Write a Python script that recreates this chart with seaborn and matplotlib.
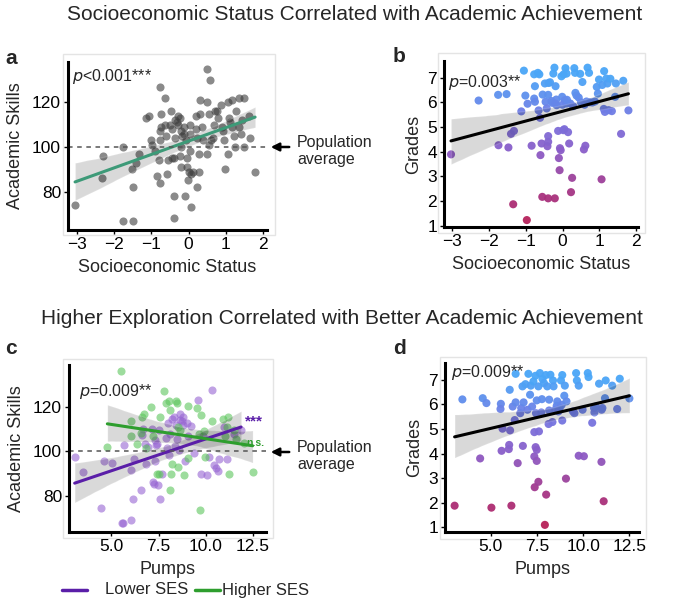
import numpy as np
import pandas as pd
import seaborn as sns
import matplotlib.pyplot as plt
from matplotlib.colors import LinearSegmentedColormap
from matplotlib.lines import Line2D
from matplotlib.patches import Rectangle

# panel a: SES vs academic skills
ses_a = [-3.05, -2.30, -2.33, -1.75, -1.77, -1.48, -1.52, -1.48, -1.42, -1.34,
         -1.14, -1.05, -1.02, -0.98, -0.90, -0.84, -0.77, -0.80, -0.78, -0.74,
         -0.76, -0.74, -0.78, -0.62, -0.62, -0.60, -0.57, -0.56, -0.51, -0.48,
         -0.45, -0.44, -0.40, -0.39, -0.37, -0.39, -0.36, -0.31, -0.29, -0.28,
         -0.24, -0.21, -0.18, -0.20, -0.22, -0.21, -0.13, -0.11, -0.09, -0.07,
         -0.04, -0.04, -0.02, 0.00, 0.03, 0.04, 0.04, 0.07, 0.08, 0.11,
         0.19, 0.22, 0.22, 0.21, 0.27, 0.29, 0.32, 0.32, 0.36, 0.39,
         0.49, 0.50, 0.51, 0.58, 0.54, 0.55, 0.61, 0.65, 0.69, 0.72,
         0.77, 0.80, 0.86, 0.90, 0.93, 0.95, 0.99, 1.05, 1.05, 1.10,
         1.12, 1.17, 1.18, 1.21, 1.25, 1.27, 1.35, 1.35, 1.40, 1.49,
         1.49, 1.43, 1.62, 1.64, 1.79]
skills_a = [74, 96, 86, 100, 67, 67, 90, 82, 93, 97,
            113, 114, 103, 101, 98, 87, 84, 94, 127, 115,
            107, 109, 103, 122, 110, 105, 88, 94, 110, 116,
            108, 95, 68, 78, 104, 95, 112, 111, 110, 114,
            113, 107, 105, 100, 96, 91, 109, 106, 78, 103,
            95, 91, 85, 89, 106, 110, 98, 88, 73, 89,
            108, 104, 82, 114, 89, 97, 121, 115, 109, 103,
            97, 120, 135, 130, 115, 101, 103, 104, 110, 116,
            116, 113, 119, 109, 107, 103, 90, 97, 120, 113,
            111, 121, 109, 105, 100, 116, 122, 109, 106, 100,
            122, 112, 114, 104, 89]

# panel b: SES vs grades
ses_b = [-3.03, -2.28, -1.75, -1.52, -1.74, -1.47, -1.40, -1.32, -1.34, -1.05,
         -1.01, -0.95, -1.12, -0.97, -0.84, -0.77, -0.75, -0.77, -0.75, -0.65,
         -0.61, -0.60, -0.57, -0.55, -0.67, -0.63, -0.54, -0.48, -0.46, -0.43,
         -0.41, -0.39, -0.39, -0.39, -0.38, -0.34, -0.39, -0.29, -0.25, -0.22,
         -0.21, -0.19, -0.17, -0.16, -0.12, -0.10, -0.08, -0.07, -0.05, -0.03,
         -0.01, 0.03, 0.02, 0.05, 0.08, 0.11, 0.06, 0.11, 0.15, 0.18,
         0.23, 0.26, 0.21, 0.29, 0.32, 0.34, 0.35, 0.38, 0.44, 0.48,
         0.54, 0.58, 0.62, 0.65, 0.68, 0.72, 0.74, 0.81, 0.88, 0.93,
         0.96, 0.99, 1.06, 1.08, 1.12, 1.13, 1.15, 1.19, 1.22, 1.25,
         1.30, 1.34, 1.43, 1.45, 1.59, 1.65, 1.79, -0.30, 0.00, 0.12,
         -0.20, 0.50, 0.60]
grades_b = [3.89, 6.07, 6.30, 6.33, 4.26, 4.17, 4.72, 4.84, 1.87, 7.28,
            6.27, 5.94, 5.63, 1.23, 4.24, 7.13, 6.65, 6.15, 6.02, 5.67,
            5.37, 3.86, 4.33, 2.17, 7.19, 7.13, 6.31, 6.76, 6.02, 5.75,
            4.22, 4.40, 4.63, 2.11, 6.78, 6.81, 6.30, 5.98, 7.16, 7.40,
            2.11, 6.65, 6.11, 5.88, 4.84, 3.74, 3.25, 4.14, 4.06, 7.05,
            6.22, 7.13, 4.87, 4.91, 7.38, 7.16, 6.08, 5.95, 4.79, 4.33,
            2.36, 2.94, 5.95, 5.84, 7.38, 7.19, 6.38, 6.27, 6.19, 7.15,
            6.82, 4.09, 4.24, 6.03, 7.40, 7.19, 6.00, 5.99, 6.03, 6.62,
            6.35, 6.92, 2.88, 6.70, 5.73, 7.26, 5.61, 6.96, 6.76, 5.68,
            6.95, 5.64, 6.22, 6.76, 4.72, 6.87, 5.67, 6.05, 5.90, 6.10,
            5.95, 6.00, 5.90]

# panel c: pumps vs academic skills, split by SES
pumps_low = [3.06, 3.50, 4.44, 4.61, 5.05, 5.56, 5.62, 5.67, 6.02, 6.06,
             6.16, 6.20, 6.55, 6.64, 6.69, 6.76, 6.86, 6.93, 7.15, 7.22,
             7.27, 7.31, 7.32, 7.38, 7.43, 7.46, 7.50, 7.58, 7.67, 7.87,
             7.96, 8.00, 8.03, 8.13, 8.22, 8.31, 8.35, 8.42, 8.49, 8.56,
             8.63, 8.66, 8.73, 8.77, 8.80, 8.91, 9.01, 9.08, 9.22, 9.40,
             9.57, 9.77, 9.84, 10.07, 10.19, 10.32, 10.46, 10.55, 10.63, 10.72,
             10.99, 11.11, 11.51, 11.87]
skills_low = [97.6, 90.6, 74.6, 95.5, 94.6, 67.8, 67.8, 102.7, 69.0, 91.6,
              78.7, 96.6, 82.7, 107.3, 110.0, 103.3, 94.3, 101.8, 110.0, 86.1,
              85.4, 95.5, 105.1, 102.8, 103.3, 84.6, 109.6, 78.7, 89.9, 106.0,
              101.3, 112.5, 98.1, 107.8, 114.5, 115.2, 102.5, 111.9, 105.5, 100.6,
              114.0, 116.7, 113.4, 115.5, 111.8, 95.5, 112.5, 106.6, 111.3, 99.1,
              123.0, 89.9, 106.6, 89.1, 97.6, 127.6, 94.0, 92.5, 91.3, 96.6,
              110.7, 96.6, 107.5, 109.6]
pumps_high = [5.53, 4.79, 6.06, 6.02, 6.37, 6.55, 6.62, 6.73, 6.83, 7.08,
              7.20, 7.40, 7.50, 7.60, 7.78, 7.92, 8.03, 8.10, 8.13, 8.17,
              8.20, 8.45, 8.50, 8.52, 8.52, 8.66, 8.84, 9.05, 9.08, 9.54,
              9.63, 9.68, 9.75, 9.89, 9.98, 10.32, 10.90, 11.02, 11.13, 11.16,
              11.25, 11.51, 11.60, 12.01, 12.48]
skills_high = [135.8, 101.8, 113.7, 106.6, 103.3, 108.1, 115.5, 116.7, 101.5, 119.7,
               106.9, 89.9, 89.9, 115.5, 126.9, 121.5, 122.7, 118.5, 82.4, 89.9,
               94.3, 122.7, 121.5, 92.8, 111.0, 109.3, 89.1, 97.0, 120.4, 119.4,
               107.8, 73.7, 116.4, 109.0, 97.6, 113.7, 114.5, 107.0, 110.7, 115.5,
               89.9, 109.3, 105.5, 103.6, 90.6]

# panel d: pumps vs grades
pumps_d = [3.05, 5.04, 6.12, 7.93, 8.00, 7.38, 7.58, 9.07, 11.11, 4.43,
           5.59, 5.98, 6.00, 6.46, 6.74, 7.36, 7.43, 7.49, 7.49, 9.76,
           10.04, 10.99, 5.64, 6.05, 7.36, 7.61, 8.13, 8.34, 8.87, 10.49,
           6.30, 3.47, 4.57, 4.77, 5.55, 5.53, 6.03, 6.19, 6.35, 6.35,
           6.60, 6.65, 6.72, 6.78, 6.88, 6.99, 7.04, 7.13, 7.17, 7.24,
           7.31, 7.42, 7.45, 7.49, 7.58, 7.66, 7.74, 7.77, 7.80, 7.88,
           7.98, 8.06, 8.16, 8.16, 8.23, 8.37, 8.40, 8.50, 8.57, 8.60,
           8.66, 8.73, 8.80, 8.87, 8.84, 9.01, 8.98, 9.10, 9.45, 9.53,
           9.62, 9.66, 9.76, 9.97, 10.25, 10.29, 10.59, 10.61, 10.68, 10.86,
           11.00, 11.04, 11.18, 11.22, 11.57, 11.84, 11.98, 12.50]
grades_d = [1.88, 1.80, 1.88, 1.10, 2.33, 2.63, 2.85, 2.98, 2.06, 3.80,
            4.11, 4.18, 4.35, 3.61, 4.31, 3.88, 4.26, 4.15, 3.70, 3.91,
            3.89, 3.66, 5.01, 4.94, 4.87, 4.90, 5.20, 5.28, 5.34, 5.25,
            5.36, 6.20, 6.25, 6.05, 6.02, 5.81, 6.59, 5.91, 6.08, 7.24,
            5.64, 5.85, 6.73, 6.08, 6.82, 5.78, 7.24, 6.39, 6.76, 5.91,
            6.93, 7.16, 5.64, 6.16, 6.73, 7.27, 5.67, 6.21, 7.03, 6.86,
            7.19, 6.73, 5.75, 6.19, 7.20, 6.97, 6.73, 5.78, 5.94, 6.12,
            5.71, 5.85, 6.97, 7.19, 5.98, 6.76, 6.35, 6.12, 5.71, 5.64,
            7.27, 6.97, 6.76, 5.78, 7.27, 7.11, 5.85, 5.67, 5.91, 6.84,
            5.78, 5.85, 6.25, 6.97, 6.76, 5.81, 7.04, 6.24]

legend_labels = ['Lower SES', 'Higher SES']

sns.set_style('white')
plt.rcParams['font.family'] = ['Liberation Sans', 'DejaVu Sans']

W, H = 685, 602
fig = plt.figure(figsize=(W / 100, H / 100), dpi=100)

grade_cmap = LinearSegmentedColormap.from_list(
    'grades', ['#b81f55', '#a3378a', '#8b5cc7', '#7378e3', '#4aa6f7'])
PURPLE_PT, PURPLE_LN = '#9664d2', '#5a1ea8'
GREEN_PT, GREEN_LN = '#5cc65c', '#2e9e2e'


def make_axes(spine_box, frame_box):
    l, t, r, b = spine_box
    ax = fig.add_axes([l / W, 1 - b / H, (r - l) / W, (b - t) / H])
    fl, ft, fr, fb = frame_box
    fig.add_artist(Rectangle((fl / W, 1 - fb / H), (fr - fl) / W, (fb - ft) / H,
                             transform=fig.transFigure, fill=False,
                             edgecolor='#e4e4e4', lw=1, zorder=0))
    for s in ['top', 'right']:
        ax.spines[s].set_visible(False)
    for s in ['left', 'bottom']:
        ax.spines[s].set_linewidth(2.2)
        ax.spines[s].set_color('black')
    ax.set_facecolor('none')
    ax.tick_params(axis='both', which='major', length=3, width=1, pad=2,
                   labelsize=12.5, colors='black', direction='out',
                   bottom=True, left=True)
    return ax


def add_fit(ax, x, y, line_color):
    # grey confidence band, then the coloured fit line on top
    sns.regplot(x=x, y=y, scatter=False, ax=ax, color='black', ci=95,
                line_kws={'alpha': 0})
    sns.regplot(x=x, y=y, scatter=False, ax=ax, ci=None,
                line_kws={'color': line_color, 'lw': 2.2})


def population_arrow(y_px):
    fig.text(297 / W, 1 - (y_px + 4) / H, 'Population\naverage', fontsize=11.5,
             va='center', ha='left', linespacing=1.15)
    fig.add_artist(plt.Annotation('', xy=(268 / W, 1 - y_px / H), xycoords='figure fraction',
                                  xytext=(292 / W, 1 - y_px / H), textcoords='figure fraction',
                                  arrowprops=dict(arrowstyle='-|>', color='black', lw=1.8,
                                                  mutation_scale=12)))


# ---- a ----
ax_a = make_axes((68, 62, 267, 230), (63, 54, 275, 235))
sns.scatterplot(x=ses_a, y=skills_a, ax=ax_a, color='#3c3c3c', alpha=0.6, s=34, linewidth=0)
add_fit(ax_a, ses_a, skills_a, '#3d9a78')
ax_a.axhline(100, color='#555555', ls=(0, (3, 3)), lw=1.1)
ax_a.set(xlim=(-3.24, 2.11), ylim=(62.8, 138.1), xticks=[-3, -2, -1, 0, 1, 2], yticks=[80, 100, 120])
ax_a.set_xlabel('Socioeconomic Status', fontsize=13, labelpad=5)
ax_a.set_ylabel('Academic Skills', fontsize=13, labelpad=6)
ax_a.text(0.02, 0.97, r'$\it{p}$<0.001***', transform=ax_a.transAxes, fontsize=11.5, va='top')
population_arrow(147)

# ---- b ----
ax_b = make_axes((444, 61, 638, 227), (438, 53, 645, 233))
sns.scatterplot(x=ses_b, y=grades_b, hue=grades_b, palette=grade_cmap, hue_norm=(1, 7),
                ax=ax_b, s=34, linewidth=0, alpha=0.95, legend=False)
add_fit(ax_b, ses_b, grades_b, 'black')
ax_b.set(xlim=(-3.22, 2.05), ylim=(0.95, 7.67), xticks=[-3, -2, -1, 0, 1, 2], yticks=list(range(1, 8)))
ax_b.set_xlabel('Socioeconomic Status', fontsize=13, labelpad=5)
ax_b.set_ylabel('Grades', fontsize=13, labelpad=4)
ax_b.text(0.02, 0.93, r'$\it{p}$=0.003**', transform=ax_b.transAxes, fontsize=11.5, va='top')

# ---- c ----
ax_c = make_axes((69, 365, 266, 532), (63, 359, 273, 538))
sns.scatterplot(x=pumps_low, y=skills_low, ax=ax_c, color=PURPLE_PT, alpha=0.6, s=34, linewidth=0)
sns.scatterplot(x=pumps_high, y=skills_high, ax=ax_c, color=GREEN_PT, alpha=0.6, s=34, linewidth=0)
add_fit(ax_c, pumps_low, skills_low, PURPLE_LN)
add_fit(ax_c, pumps_high, skills_high, GREEN_LN)
ax_c.axhline(100, color='#555555', ls=(0, (3, 3)), lw=1.1)
ax_c.set(xlim=(2.76, 13.19), ylim=(63.7, 138.7), xticks=[5.0, 7.5, 10.0, 12.5], yticks=[80, 100, 120])
ax_c.set_xticklabels(['5.0', '7.5', '10.0', '12.5'])
ax_c.set_xlabel('Pumps', fontsize=13, labelpad=5)
ax_c.set_ylabel('Academic Skills', fontsize=13, labelpad=6)
ax_c.text(0.05, 0.9, r'$\it{p}$=0.009**', transform=ax_c.transAxes, fontsize=11.5, va='top')
ax_c.text(12.1, 113.5, '***', color=PURPLE_LN, fontsize=11, fontweight='bold', va='center')
ax_c.text(12.15, 103.5, 'n.s.', color=GREEN_LN, fontsize=7.5, fontweight='bold', va='center')
population_arrow(452)

# ---- d ----
ax_d = make_axes((445, 363, 639, 532), (440, 357, 646, 539))
sns.scatterplot(x=pumps_d, y=grades_d, hue=grades_d, palette=grade_cmap, hue_norm=(1, 7),
                ax=ax_d, s=34, linewidth=0, alpha=0.95, legend=False)
add_fit(ax_d, pumps_d, grades_d, 'black')
ax_d.set(xlim=(2.53, 13.02), ylim=(0.81, 7.68), xticks=[5.0, 7.5, 10.0, 12.5], yticks=list(range(1, 8)))
ax_d.set_xticklabels(['5.0', '7.5', '10.0', '12.5'])
ax_d.set_xlabel('Pumps', fontsize=13, labelpad=5)
ax_d.set_ylabel('Grades', fontsize=13, labelpad=4)
ax_d.text(0.03, 1.0, r'$\it{p}$=0.009**', transform=ax_d.transAxes, fontsize=11.5, va='top')

# titles and panel letters
fig.text(355 / W, 1 - 15 / H, 'Socioeconomic Status Correlated with Academic Achievement',
         fontsize=15, ha='center', va='center')
fig.text(342 / W, 1 - 318 / H, 'Higher Exploration Correlated with Better Academic Achievement',
         fontsize=15, ha='center', va='center')
for letter, (xp, yp) in {'a': (5, 58), 'b': (393, 57), 'c': (5, 348), 'd': (393, 348)}.items():
    fig.text(xp / W, 1 - yp / H, letter, fontsize=15, fontweight='bold', va='center')

# legend for panel c, placed below it
leg_y = 1 - 590 / H
for (x0, x1, tx), col, lab in zip([(62, 87, 105), (195, 220, 222)], [PURPLE_LN, GREEN_LN], legend_labels):
    fig.add_artist(Line2D([x0 / W, x1 / W], [leg_y, leg_y], transform=fig.transFigure,
                          color=col, lw=2.5))
    fig.text(tx / W, leg_y, lab, fontsize=12, va='center', ha='left')

fig.savefig('out.png', dpi=100)
